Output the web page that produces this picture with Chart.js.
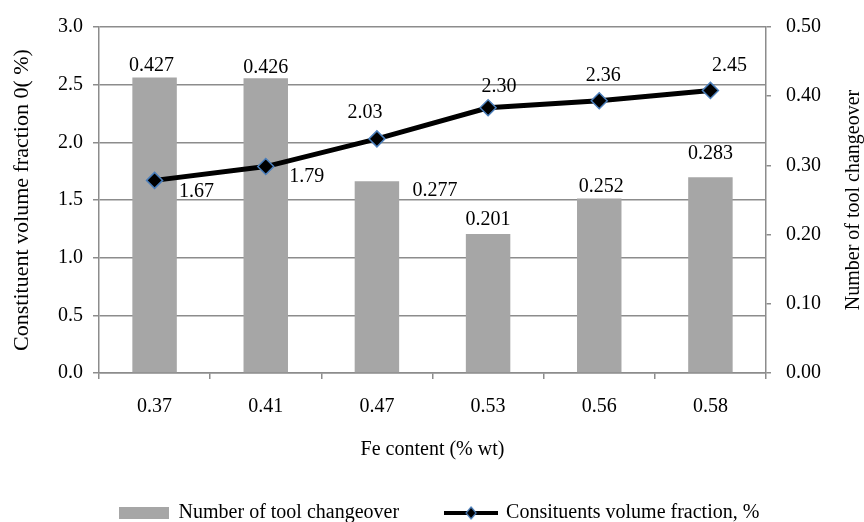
<!DOCTYPE html>
<html>
<head>
<meta charset="utf-8">
<title>Fe content vs tool changeover</title>
<script src="https://cdn.jsdelivr.net/npm/chart.js@4.4.1/dist/chart.umd.min.js"></script>
<style>
  body { margin: 0; background: #fff; }
  #chart { display: block; }
</style>
</head>
<body>
<canvas id="chart" width="864" height="522"></canvas>
<script>
// Data
const feContent = ["0.37", "0.41", "0.47", "0.53", "0.56", "0.58"];
const toolChangeover = [0.427, 0.426, 0.277, 0.201, 0.252, 0.283];
const volumeFraction = [1.67, 1.79, 2.03, 2.30, 2.36, 2.45];
const leftAxisTicks = [0, 0.5, 1.0, 1.5, 2.0, 2.5, 3.0];
const rightAxisTicks = [0, 0.1, 0.2, 0.3, 0.4, 0.5];

// where each value label sits relative to its bar top / point
const barLabelOffsets = [[-3, -12], [0, -10], [58, 9], [0, -14], [2, -12], [0, -23]];
const lineLabelOffsets = [[42, 11], [41, 10], [-12, -26], [11, -21], [4, -25], [19, -25]];

const FONT = "'Liberation Serif', 'Times New Roman', serif";
const GRID = "#8c8c8c";
const BAR_GREY = "#a6a6a6";
const MARKER_EDGE = "#4a7ebb";

// legend swatches
function barSwatch() {
    const c = document.createElement("canvas");
    c.width = 50; c.height = 12;
    const g = c.getContext("2d");
    g.fillStyle = BAR_GREY;
    g.fillRect(0, 0, 50, 12);
    return c;
}

function lineSwatch() {
    const c = document.createElement("canvas");
    c.width = 54; c.height = 16;
    const g = c.getContext("2d");
    g.strokeStyle = "#000";
    g.lineWidth = 4;
    g.beginPath();
    g.moveTo(0, 8);
    g.lineTo(54, 8);
    g.stroke();
    g.beginPath();
    g.moveTo(27, 2); g.lineTo(32, 8); g.lineTo(27, 14); g.lineTo(22, 8);
    g.closePath();
    g.fillStyle = "#000";
    g.fill();
    g.strokeStyle = MARKER_EDGE;
    g.lineWidth = 1.2;
    g.stroke();
    return c;
}

const valueLabels = {
    id: "valueLabels",
    afterDatasetsDraw(chart) {
        const ctx = chart.ctx;
        ctx.save();
        ctx.font = "20px " + FONT;
        ctx.fillStyle = "#000";
        ctx.textAlign = "center";
        ctx.textBaseline = "middle";
        chart.getDatasetMeta(0).data.forEach((bar, i) => {
            const [dx, dy] = barLabelOffsets[i];
            ctx.fillText(toolChangeover[i].toFixed(3), bar.x + dx, bar.y + dy);
        });
        chart.getDatasetMeta(1).data.forEach((pt, i) => {
            const [dx, dy] = lineLabelOffsets[i];
            ctx.fillText(volumeFraction[i].toFixed(2), pt.x + dx, pt.y + dy);
        });
        ctx.restore();
    }
};

// right axis title reads bottom-to-top, so draw it by hand
const rightTitle = {
    id: "rightTitle",
    afterDraw(chart) {
        const ctx = chart.ctx;
        const area = chart.chartArea;
        ctx.save();
        ctx.translate(chart.scales.y1.right - 10, (area.top + area.bottom) / 2);
        ctx.rotate(-Math.PI / 2);
        ctx.font = "20px " + FONT;
        ctx.fillStyle = "#000";
        ctx.textAlign = "center";
        ctx.textBaseline = "middle";
        ctx.fillText("Number of tool changeover", 0, 0);
        ctx.restore();
    }
};

const ctx = document.getElementById("chart").getContext("2d");
new Chart(ctx, {
    type: "bar",
    data: {
        labels: feContent,
        datasets: [{
            type: "bar",
            label: "Number of tool changeover",
            data: toolChangeover,
            yAxisID: "y1",
            backgroundColor: BAR_GREY,
            barPercentage: 0.4,
            categoryPercentage: 1,
            order: 1
        }, {
            type: "line",
            label: "Consituents volume fraction, %",
            data: volumeFraction,
            yAxisID: "y",
            borderColor: "#000",
            borderWidth: 5,
            tension: 0,
            pointStyle: "rectRot",
            pointRadius: 8,
            pointBackgroundColor: "#000",
            pointBorderColor: MARKER_EDGE,
            pointBorderWidth: 1.5,
            order: 0
        }]
    },
    options: {
        responsive: false,
        animation: false,
        layout: { padding: { top: 22, left: 14, right: 0, bottom: -11 } },
        plugins: {
            tooltip: { enabled: false },
            legend: {
                position: "bottom",
                labels: {
                    usePointStyle: true,
                    pointStyleWidth: 50,
                    padding: 47,
                    color: "#000",
                    font: { family: FONT, size: 20 },
                    generateLabels: () => [
                        { text: "Number of tool changeover", pointStyle: barSwatch(), datasetIndex: 0, fontColor: "#000", lineWidth: 0 },
                        { text: "Consituents volume fraction, %", pointStyle: lineSwatch(), datasetIndex: 1, fontColor: "#000", lineWidth: 0 }
                    ]
                }
            }
        },
        scales: {
            x: {
                grid: { display: true, drawOnChartArea: false, tickLength: 6, color: GRID, lineWidth: 1.5 },
                border: { color: GRID, width: 1.5 },
                ticks: { color: "#000", font: { family: FONT, size: 20 }, padding: 16 },
                title: {
                    display: true,
                    text: "Fe content (% wt)",
                    color: "#000",
                    font: { family: FONT, size: 20 },
                    padding: { top: 0, bottom: -6 }
                },
                afterFit: s => { s.height = 83; }
            },
            y: {
                position: "left",
                min: 0,
                max: 3,
                afterBuildTicks: s => { s.ticks = leftAxisTicks.map(v => ({ value: v })); },
                grid: { color: GRID, lineWidth: 1.5, tickLength: 6 },
                border: { color: GRID, width: 1.5 },
                ticks: { color: "#000", font: { family: FONT, size: 20 }, padding: 10, callback: v => v.toFixed(1) },
                title: {
                    display: true,
                    text: "Constituent volume fraction 0( %)",
                    color: "#000",
                    font: { family: FONT, size: 22, lineHeight: 1 },
                    padding: { top: -3, bottom: 0 }
                },
                afterFit: s => { s.width = 85; }
            },
            y1: {
                position: "right",
                min: 0,
                max: 0.5,
                afterBuildTicks: s => { s.ticks = rightAxisTicks.map(v => ({ value: v })); },
                grid: { drawOnChartArea: false, color: GRID, lineWidth: 1.5, tickLength: 5 },
                border: { color: GRID, width: 1.5 },
                ticks: { color: "#000", font: { family: FONT, size: 20 }, padding: 15, callback: v => v.toFixed(2) },
                afterFit: s => { s.width = 98; }
            }
        }
    },
    plugins: [valueLabels, rightTitle]
});
</script>
</body>
</html>
